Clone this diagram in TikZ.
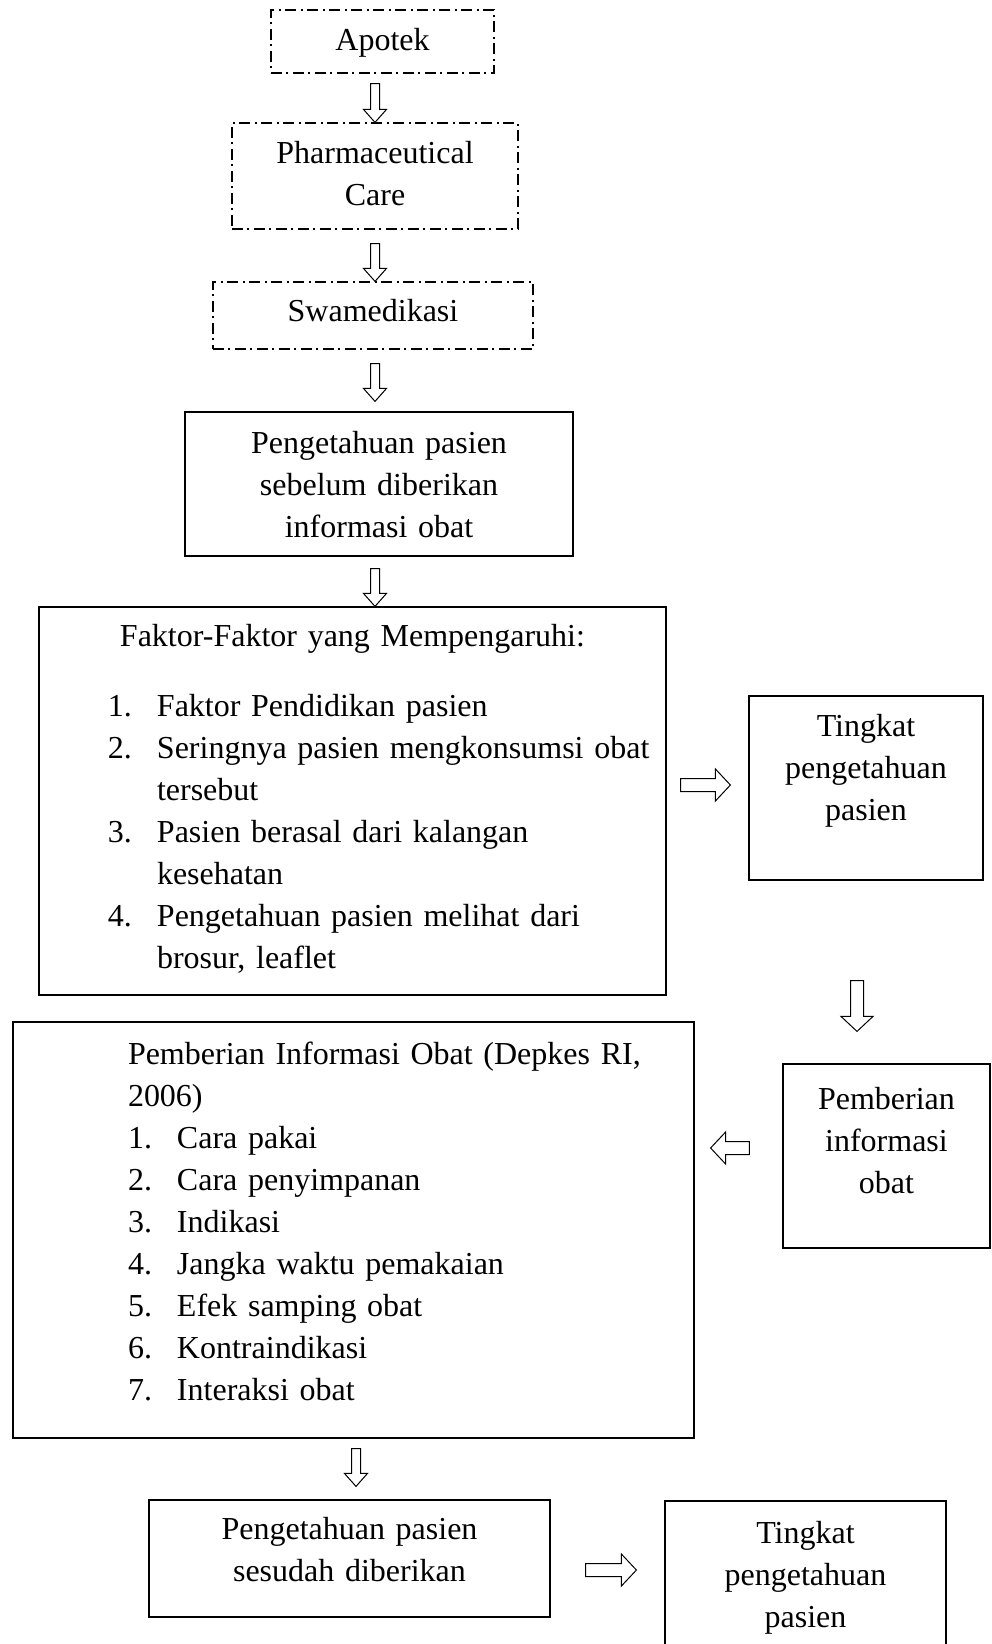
\documentclass[tikz,border=0pt]{standalone}
\usepackage{fontspec}
\setmainfont{Liberation Serif}
\usetikzlibrary{calc}

\begin{document}
\begin{tikzpicture}
        [x=0.5pt, y=-0.5pt,
        font=\fontsize{16}{21}\selectfont,
        box/.style={draw, line width=0.6pt, inner sep=0pt, align=center},
        dashbox/.style={box, dash pattern=on 5.5pt off 2pt on 1pt off 2.5pt},
        hollow/.style n args={3}{draw, fill=white, line width=0.5pt, to path={
           ($(\tikztostart)!#1!90:(\tikztotarget)$)
           -- ($($(\tikztotarget)!#3!(\tikztostart)$)!#1!-90:(\tikztostart)$)
           -- ($($(\tikztotarget)!#3!(\tikztostart)$)!#2!-90:(\tikztostart)$)
           -- (\tikztotarget)
           -- ($($(\tikztotarget)!#3!(\tikztostart)$)!#2!90:(\tikztostart)$)
           -- ($($(\tikztotarget)!#3!(\tikztostart)$)!#1!90:(\tikztostart)$)
           -- ($(\tikztostart)!#1!-90:(\tikztotarget)$) -- cycle}},
        smallarr/.style={hollow={2.25pt}{5.75pt}{6.5pt}},
        bigarr/.style={hollow={3.25pt}{8pt}{7.5pt}}]
        \useasboundingbox (0,0) rectangle (991,1644);
        \node (apotek) at (382.5, 41.5) [dashbox, text width=111.5pt, text height=20pt, text depth=11.5pt] {Apotek};
        \node (pharm) at (375, 176) [dashbox, text width=143pt, text height=20pt, text depth=33pt] {Pharmaceutical\\Care};
        \node (swam) at (373, 315.5) [dashbox, text width=160pt, text height=19.5pt, text depth=14pt] {Swamedikasi};
        \node (peng1) at (379, 484) [box, text width=194pt, text height=20.5pt, text depth=51.5pt]
           {Pengetahuan pasien\\sebelum diberikan\\informasi obat};
        \node (faktor) at (352.5, 801) [box, align=left, text width=313.5pt, text height=19.5pt, text depth=174.5pt]
           {{\centering Faktor-Faktor yang Mempengaruhi:\par}\vspace{14pt}%
            \noindent\hspace*{34.5pt}\begin{tabular}[t]{@{}l@{\hspace{12.5pt}}l@{}}
              1. & Faktor Pendidikan pasien\\
              2. & Seringnya pasien mengkonsumsi obat\\
                 & tersebut\\
              3. & Pasien berasal dari kalangan\\
                 & kesehatan\\
              4. & Pengetahuan pasien melihat dari\\
                 & brosur, leaflet
            \end{tabular}};
        \node (tingkat1) at (866, 788) [box, text width=117pt, text height=20pt, text depth=72pt]
           {Tingkat\\pengetahuan\\pasien};
        \node (pemb2) at (886.5, 1156) [box, text width=103.5pt, text height=22.5pt, text depth=69.5pt]
           {Pemberian\\informasi\\obat};
        \node (pemb1) at (353.5, 1230) [box, align=left, text width=340.5pt, text height=21pt, text depth=187pt]
           {\noindent\hspace*{57.5pt}\begin{tabular}[t]{@{}l@{\hspace{12.5pt}}l@{}}
              \multicolumn{2}{@{}l@{}}{Pemberian Informasi Obat (Depkes RI,}\\
              \multicolumn{2}{@{}l@{}}{2006)}\\
              1. & Cara pakai\\
              2. & Cara penyimpanan\\
              3. & Indikasi\\
              4. & Jangka waktu pemakaian\\
              5. & Efek samping obat\\
              6. & Kontraindikasi\\
              7. & Interaksi obat
            \end{tabular}};
        \node (sesudah) at (349.5, 1558.5) [box, text width=200.5pt, text height=19.5pt, text depth=39pt]
           {Pengetahuan pasien\\sesudah diberikan};
        \node (tingkat2) at (805.5, 1593) [box, text width=140.5pt, text height=21pt, text depth=71pt]
           {Tingkat\\pengetahuan\\pasien};
        \path ([xshift=-3.75pt, yshift=-5pt]apotek.south) edge[smallarr] (pharm.north);
        \path ([yshift=-7pt]pharm.south) edge[smallarr] ([xshift=1pt]swam.north);
        \path ([xshift=1pt, yshift=-7pt]swam.south) edge[smallarr] ([xshift=-2pt, yshift=5pt]peng1.north);
        \path ([xshift=-2pt, yshift=-6pt]peng1.south) edge[smallarr] ([xshift=11.25pt]faktor.north);
        \path ([xshift=7pt, yshift=8pt]faktor.east) edge[bigarr] ([xshift=-9pt, yshift=1.5pt]tingkat1.west);
        \path ([xshift=-4.5pt, yshift=-50pt]tingkat1.south) edge[bigarr] ([xshift=-14.75pt, yshift=16pt]pemb2.north);
        \path ([xshift=-16.5pt, yshift=4pt]pemb2.west) edge[bigarr] ([xshift=8pt, yshift=41pt]pemb1.east);
        \path ([xshift=1.25pt, yshift=-5pt]pemb1.south) edge[smallarr] ([xshift=3.25pt, yshift=6.5pt]sesudah.north);
        \path ([xshift=17.5pt, yshift=-5.75pt]sesudah.east) edge[bigarr] ([xshift=-14pt, yshift=11.5pt]tingkat2.west);
     \end{tikzpicture}
\end{document}
